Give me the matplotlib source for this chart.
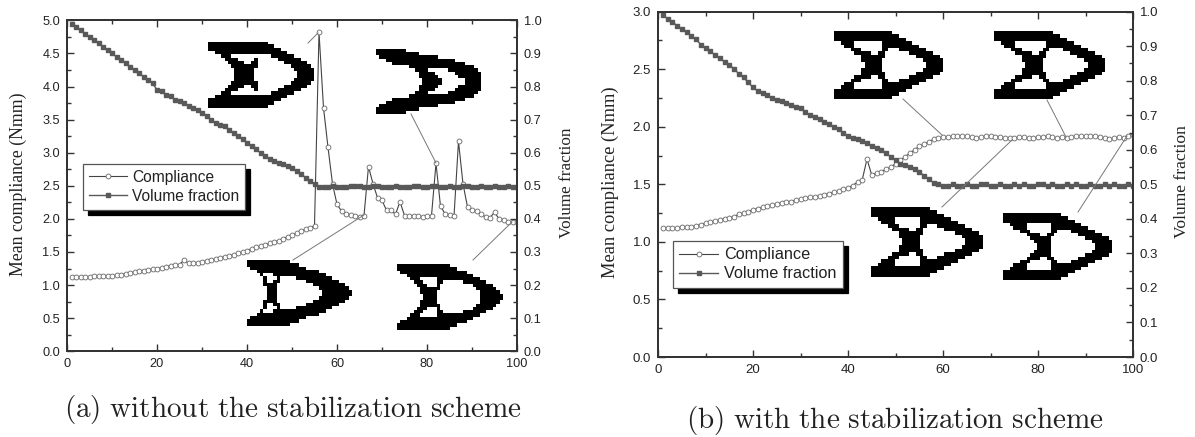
import numpy as np
import matplotlib
matplotlib.use('Agg')
import matplotlib.pyplot as plt
from matplotlib.lines import Line2D

W, H = 1195, 437

# iterations
iters_a = list(range(1, 101))
iters_b = list(range(1, 101))

# (a) without stabilization
compliance_a = [
    1.12, 1.12, 1.12, 1.12, 1.12, 1.13, 1.13, 1.13, 1.14, 1.14,
    1.15, 1.16, 1.17, 1.18, 1.20, 1.22, 1.22, 1.23, 1.24, 1.25,
    1.26, 1.28, 1.29, 1.30, 1.31, 1.38, 1.33, 1.33, 1.34, 1.35,
    1.37, 1.38, 1.39, 1.41, 1.43, 1.44, 1.46, 1.48, 1.50, 1.52,
    1.55, 1.57, 1.59, 1.61, 1.63, 1.65, 1.67, 1.70, 1.73, 1.76,
    1.78, 1.81, 1.84, 1.86, 1.90, 4.82, 3.68, 3.08, 2.53, 2.22,
    2.12, 2.08, 2.06, 2.04, 2.03, 2.05, 2.79, 2.53, 2.32, 2.28,
    2.13, 2.13, 2.07, 2.26, 2.05, 2.05, 2.05, 2.04, 2.03, 2.04,
    2.05, 2.84, 2.19, 2.08, 2.06, 2.04, 3.17, 2.53, 2.18, 2.13,
    2.12, 2.07, 2.03, 2.02, 2.10, 2.00, 1.98, 1.95, 1.95, 1.95,
]
volume_a = [
    0.99, 0.98, 0.97, 0.96, 0.95, 0.94, 0.93, 0.92, 0.91, 0.90,
    0.89, 0.88, 0.87, 0.86, 0.85, 0.84, 0.83, 0.82, 0.81, 0.79,
    0.785, 0.775, 0.77, 0.76, 0.755, 0.75, 0.74, 0.735, 0.73, 0.72,
    0.71, 0.70, 0.69, 0.685, 0.68, 0.67, 0.66, 0.65, 0.64, 0.63,
    0.62, 0.61, 0.60, 0.59, 0.58, 0.575, 0.57, 0.565, 0.56, 0.555,
    0.545, 0.535, 0.525, 0.515, 0.505, 0.495, 0.495, 0.495, 0.50, 0.495,
    0.495, 0.495, 0.50, 0.50, 0.50, 0.495, 0.495, 0.50, 0.50, 0.495,
    0.495, 0.495, 0.50, 0.495, 0.495, 0.495, 0.50, 0.50, 0.495, 0.495,
    0.50, 0.50, 0.495, 0.495, 0.50, 0.495, 0.495, 0.50, 0.50, 0.495,
    0.495, 0.50, 0.495, 0.495, 0.50, 0.495, 0.495, 0.50, 0.495, 0.495,
]

# (b) with stabilization
compliance_b = [
    1.12, 1.12, 1.12, 1.12, 1.13, 1.13, 1.13, 1.14, 1.15, 1.16,
    1.17, 1.18, 1.19, 1.20, 1.21, 1.22, 1.24, 1.25, 1.26, 1.28,
    1.29, 1.30, 1.31, 1.32, 1.33, 1.34, 1.35, 1.35, 1.36, 1.37,
    1.38, 1.39, 1.39, 1.40, 1.41, 1.42, 1.43, 1.44, 1.46, 1.47,
    1.49, 1.52, 1.54, 1.72, 1.58, 1.60, 1.61, 1.63, 1.65, 1.68,
    1.71, 1.74, 1.77, 1.80, 1.83, 1.85, 1.87, 1.89, 1.90, 1.91,
    1.91, 1.92, 1.92, 1.92, 1.92, 1.91, 1.90, 1.91, 1.92, 1.92,
    1.91, 1.91, 1.90, 1.90, 1.90, 1.91, 1.91, 1.90, 1.90, 1.91,
    1.91, 1.92, 1.91, 1.90, 1.91, 1.90, 1.91, 1.92, 1.92, 1.92,
    1.92, 1.92, 1.91, 1.90, 1.89, 1.90, 1.91, 1.90, 1.92, 1.93,
]
volume_b = [
    0.99, 0.98, 0.97, 0.96, 0.95, 0.94, 0.93, 0.92, 0.905, 0.894,
    0.885, 0.875, 0.865, 0.855, 0.845, 0.835, 0.82, 0.81, 0.795, 0.781,
    0.77, 0.765, 0.76, 0.75, 0.745, 0.74, 0.735, 0.73, 0.725, 0.72,
    0.71, 0.70, 0.695, 0.69, 0.68, 0.675, 0.665, 0.66, 0.65, 0.64,
    0.635, 0.63, 0.625, 0.62, 0.61, 0.605, 0.60, 0.59, 0.58, 0.57,
    0.56, 0.555, 0.55, 0.545, 0.537, 0.525, 0.515, 0.505, 0.50, 0.495,
    0.495, 0.50, 0.495, 0.495, 0.50, 0.495, 0.495, 0.50, 0.50, 0.495,
    0.495, 0.50, 0.495, 0.495, 0.50, 0.495, 0.50, 0.495, 0.495, 0.50,
    0.50, 0.495, 0.50, 0.495, 0.495, 0.50, 0.495, 0.50, 0.495, 0.495,
    0.50, 0.495, 0.495, 0.50, 0.495, 0.50, 0.495, 0.495, 0.50, 0.495,
]

# topology pictures: black spans per row, top half only (mirrored below), 32 columns wide
topo_a = [[(0, 18)], [(0, 20)], [(0, 22)], [(2, 24)],
          [(4, 7), (19, 26)], [(5, 9), (14, 15), (21, 28)], [(6, 11), (13, 15), (23, 30)],
          [(7, 15), (25, 31)], [(8, 14), (26, 32)], [(8, 14), (27, 32)]]
topo_b = [[(0, 9)], [(0, 13)], [(1, 19)], [(3, 24)], [(5, 27)], [(10, 30)],
          [(12, 16), (22, 31)], [(13, 18), (24, 32)], [(13, 19), (25, 32)], [(14, 20), (27, 32)]]
topo_c = [[(0, 13)], [(0, 16)], [(1, 18)], [(3, 22)],
          [(4, 5), (8, 24)], [(5, 6), (9, 10), (15, 26)], [(5, 6), (8, 10), (18, 28)],
          [(5, 9), (20, 30)], [(6, 9), (22, 31)], [(6, 9), (23, 32)]]
topo_d = [[(0, 16)], [(0, 18)], [(1, 21)], [(3, 23)],
          [(4, 7), (12, 25)], [(5, 8), (12, 14), (20, 27)], [(6, 9), (12, 13), (23, 29)],
          [(7, 13), (24, 30)], [(7, 12), (25, 31)], [(8, 12), (25, 32)]]
topo_e = [[(0, 17)], [(0, 19)], [(0, 21)], [(2, 6), (14, 23)],
          [(3, 6), (14, 25)], [(5, 8), (14, 16), (19, 27)], [(6, 11), (13, 15), (22, 29)],
          [(8, 15), (24, 31)], [(8, 14), (26, 32)], [(9, 14), (27, 32)]]
topo_f = [[(0, 17)], [(0, 19)], [(0, 21)], [(2, 6), (15, 23)],
          [(3, 6), (15, 25)], [(5, 8), (14, 16), (20, 27)], [(6, 11), (13, 15), (22, 29)],
          [(8, 15), (24, 31)], [(8, 14), (26, 32)], [(9, 14), (27, 32)]]
topo_g = [[(0, 17)], [(0, 19)], [(0, 21)], [(2, 7), (14, 23)],
          [(3, 7), (14, 25)], [(5, 8), (14, 16), (19, 27)], [(6, 11), (13, 15), (21, 29)],
          [(8, 15), (24, 31)], [(8, 14), (26, 32)], [(9, 14), (27, 32)]]
topo_h = [[(0, 17)], [(0, 19)], [(0, 21)], [(2, 7), (14, 23)],
          [(3, 7), (14, 25)], [(5, 8), (14, 16), (20, 27)], [(7, 11), (13, 15), (22, 29)],
          [(8, 14), (24, 31)], [(9, 14), (26, 32)], [(10, 14), (27, 32)]]

topo_boxes = [
    (topo_a, 208, 42, 313, 108), (topo_b, 376, 49, 481, 114),
    (topo_c, 247, 260, 352, 326), (topo_d, 397, 264, 503, 330),
    (topo_e, 834, 31, 943, 99), (topo_f, 994, 31, 1105, 99),
    (topo_g, 871, 207, 982, 277), (topo_h, 1003, 213, 1112, 280),
]

# leader lines from topology to curve, figure pixels
leaders = [
    (308, 43, 318, 33), (411, 114, 436, 163), (293, 260, 364, 215), (473, 260, 512, 222),
    (903, 99, 942, 135), (1047, 100, 1066, 137), (942, 207, 1012, 140), (1078, 212, 1127, 136),
]

plt.rcParams['font.family'] = ['Liberation Sans', 'DejaVu Sans']
axis_col = '#333333'
fig = plt.figure(figsize=(W / 100, H / 100), dpi=100)


def px_axes(x0, y0, x1, y1):
    return fig.add_axes([x0 / W, 1 - y1 / H, (x1 - x0) / W, (y1 - y0) / H])


def draw_panel(box, iters, comp, vol, ymax, yticks, yminor, tick_fs, leg_fs, leg_px):
    ax = px_axes(*box)
    ax2 = ax.twinx()
    l1, = ax.plot(iters, comp, '-o', color='#444444', lw=0.8, ms=3.5, mfc='white',
                  mec='#666666', mew=0.6, label='Compliance')
    l2, = ax2.plot(iters, vol, '-s', color='#595959', lw=1.0, ms=3.0, mec='#595959',
                   label='Volume fraction')
    ax.set_xlim(0, 100)
    ax.set_ylim(0, ymax)
    ax2.set_ylim(0, 1)
    ax.set_xticks([0, 20, 40, 60, 80, 100])
    ax.set_xticks([10, 30, 50, 70, 90], minor=True)
    ax.set_yticks(yticks)
    ax.set_yticks(yminor, minor=True)
    ax.set_yticklabels([f'{t:.1f}' for t in yticks])
    ax2.set_yticks([i / 10 for i in range(11)])
    ax2.set_yticks([i / 10 + 0.05 for i in range(10)], minor=True)
    ax2.set_yticklabels([f'{i / 10:.1f}' for i in range(11)])
    for a in (ax, ax2):
        a.tick_params(which='major', direction='in', length=5, width=1, color=axis_col,
                      labelsize=tick_fs, labelcolor='#222222', pad=5)
        a.tick_params(which='minor', direction='in', length=3, width=1, color=axis_col)
        for s in a.spines.values():
            s.set_linewidth(1.3)
            s.set_color(axis_col)
    ax.tick_params(axis='x', which='both', top=True)
    ax2.patch.set_alpha(0)

    leg = ax2.legend(handles=[l1, l2], loc='lower left', fontsize=leg_fs, frameon=True,
                     fancybox=False, framealpha=1, edgecolor='#555555', borderaxespad=0,
                     bbox_to_anchor=(leg_px[0] / W, 1 - leg_px[1] / H),
                     bbox_transform=fig.transFigure, handlelength=2.4, handletextpad=0.35,
                     labelspacing=0.25, borderpad=0.4,
                     shadow={'color': 'black', 'alpha': 1, 'ox': 3.6, 'oy': -3.6})
    leg.get_frame().set_linewidth(0.9)
    leg.set_zorder(10)
    for t in leg.get_texts():
        t.set_color('#222222')
    return ax, ax2


draw_panel((67, 20.3, 517, 351.3), iters_a, compliance_a, volume_a, 5.0,
           [0, 0.5, 1, 1.5, 2, 2.5, 3, 3.5, 4, 4.5, 5], [0.25 + i * 0.5 for i in range(10)],
           9.2, 11.2, (83, 210))
draw_panel((658, 11.7, 1133, 357), iters_b, compliance_b, volume_b, 3.0,
           [0, 0.5, 1, 1.5, 2, 2.5, 3], [0.25 + i * 0.5 for i in range(6)],
           9.5, 11.7, (673, 288))

# topology insets
for rows, x0, y0, x1, y1 in topo_boxes:
    img = np.ones((20, 32))
    for r, spans in enumerate(rows):
        for s, e in spans:
            img[r, s:e] = 0
            img[19 - r, s:e] = 0
    ia = px_axes(x0, y0, x1, y1)
    ia.imshow(img, cmap='gray', vmin=0, vmax=1, aspect='auto', interpolation='nearest')
    ia.axis('off')

for x0, y0, x1, y1 in leaders:
    fig.add_artist(Line2D([x0 / W, x1 / W], [1 - y0 / H, 1 - y1 / H], color='#777777', lw=0.7))

# axis titles and captions
ser = ['Liberation Serif', 'DejaVu Serif']
fig.text(18 / W, 1 - 184 / H, 'Mean compliance (Nmm)', rotation=90, family=ser, fontsize=12.8,
         ha='center', va='center', color='#222222')
fig.text(567 / W, 1 - 183 / H, 'Volume fraction', rotation=90, family=ser, fontsize=12.3,
         ha='center', va='center', color='#222222')
fig.text(610 / W, 1 - 182 / H, 'Mean compliance (Nmm)', rotation=90, family=ser, fontsize=13.3,
         ha='center', va='center', color='#222222')
fig.text(1182 / W, 1 - 182 / H, 'Volume fraction', rotation=90, family=ser, fontsize=12.6,
         ha='center', va='center', color='#222222')

fig.text(293 / W, 1 - 417 / H, r'$\mathrm{(a)\ without\ the\ stabilization\ scheme}$',
         math_fontfamily='cm', fontsize=21, ha='center', va='baseline', color='#222222')
fig.text(895 / W, 1 - 428 / H, r'$\mathrm{(b)\ with\ the\ stabilization\ scheme}$',
         math_fontfamily='cm', fontsize=21, ha='center', va='baseline', color='#222222')

fig.savefig('out.png', dpi=100)
